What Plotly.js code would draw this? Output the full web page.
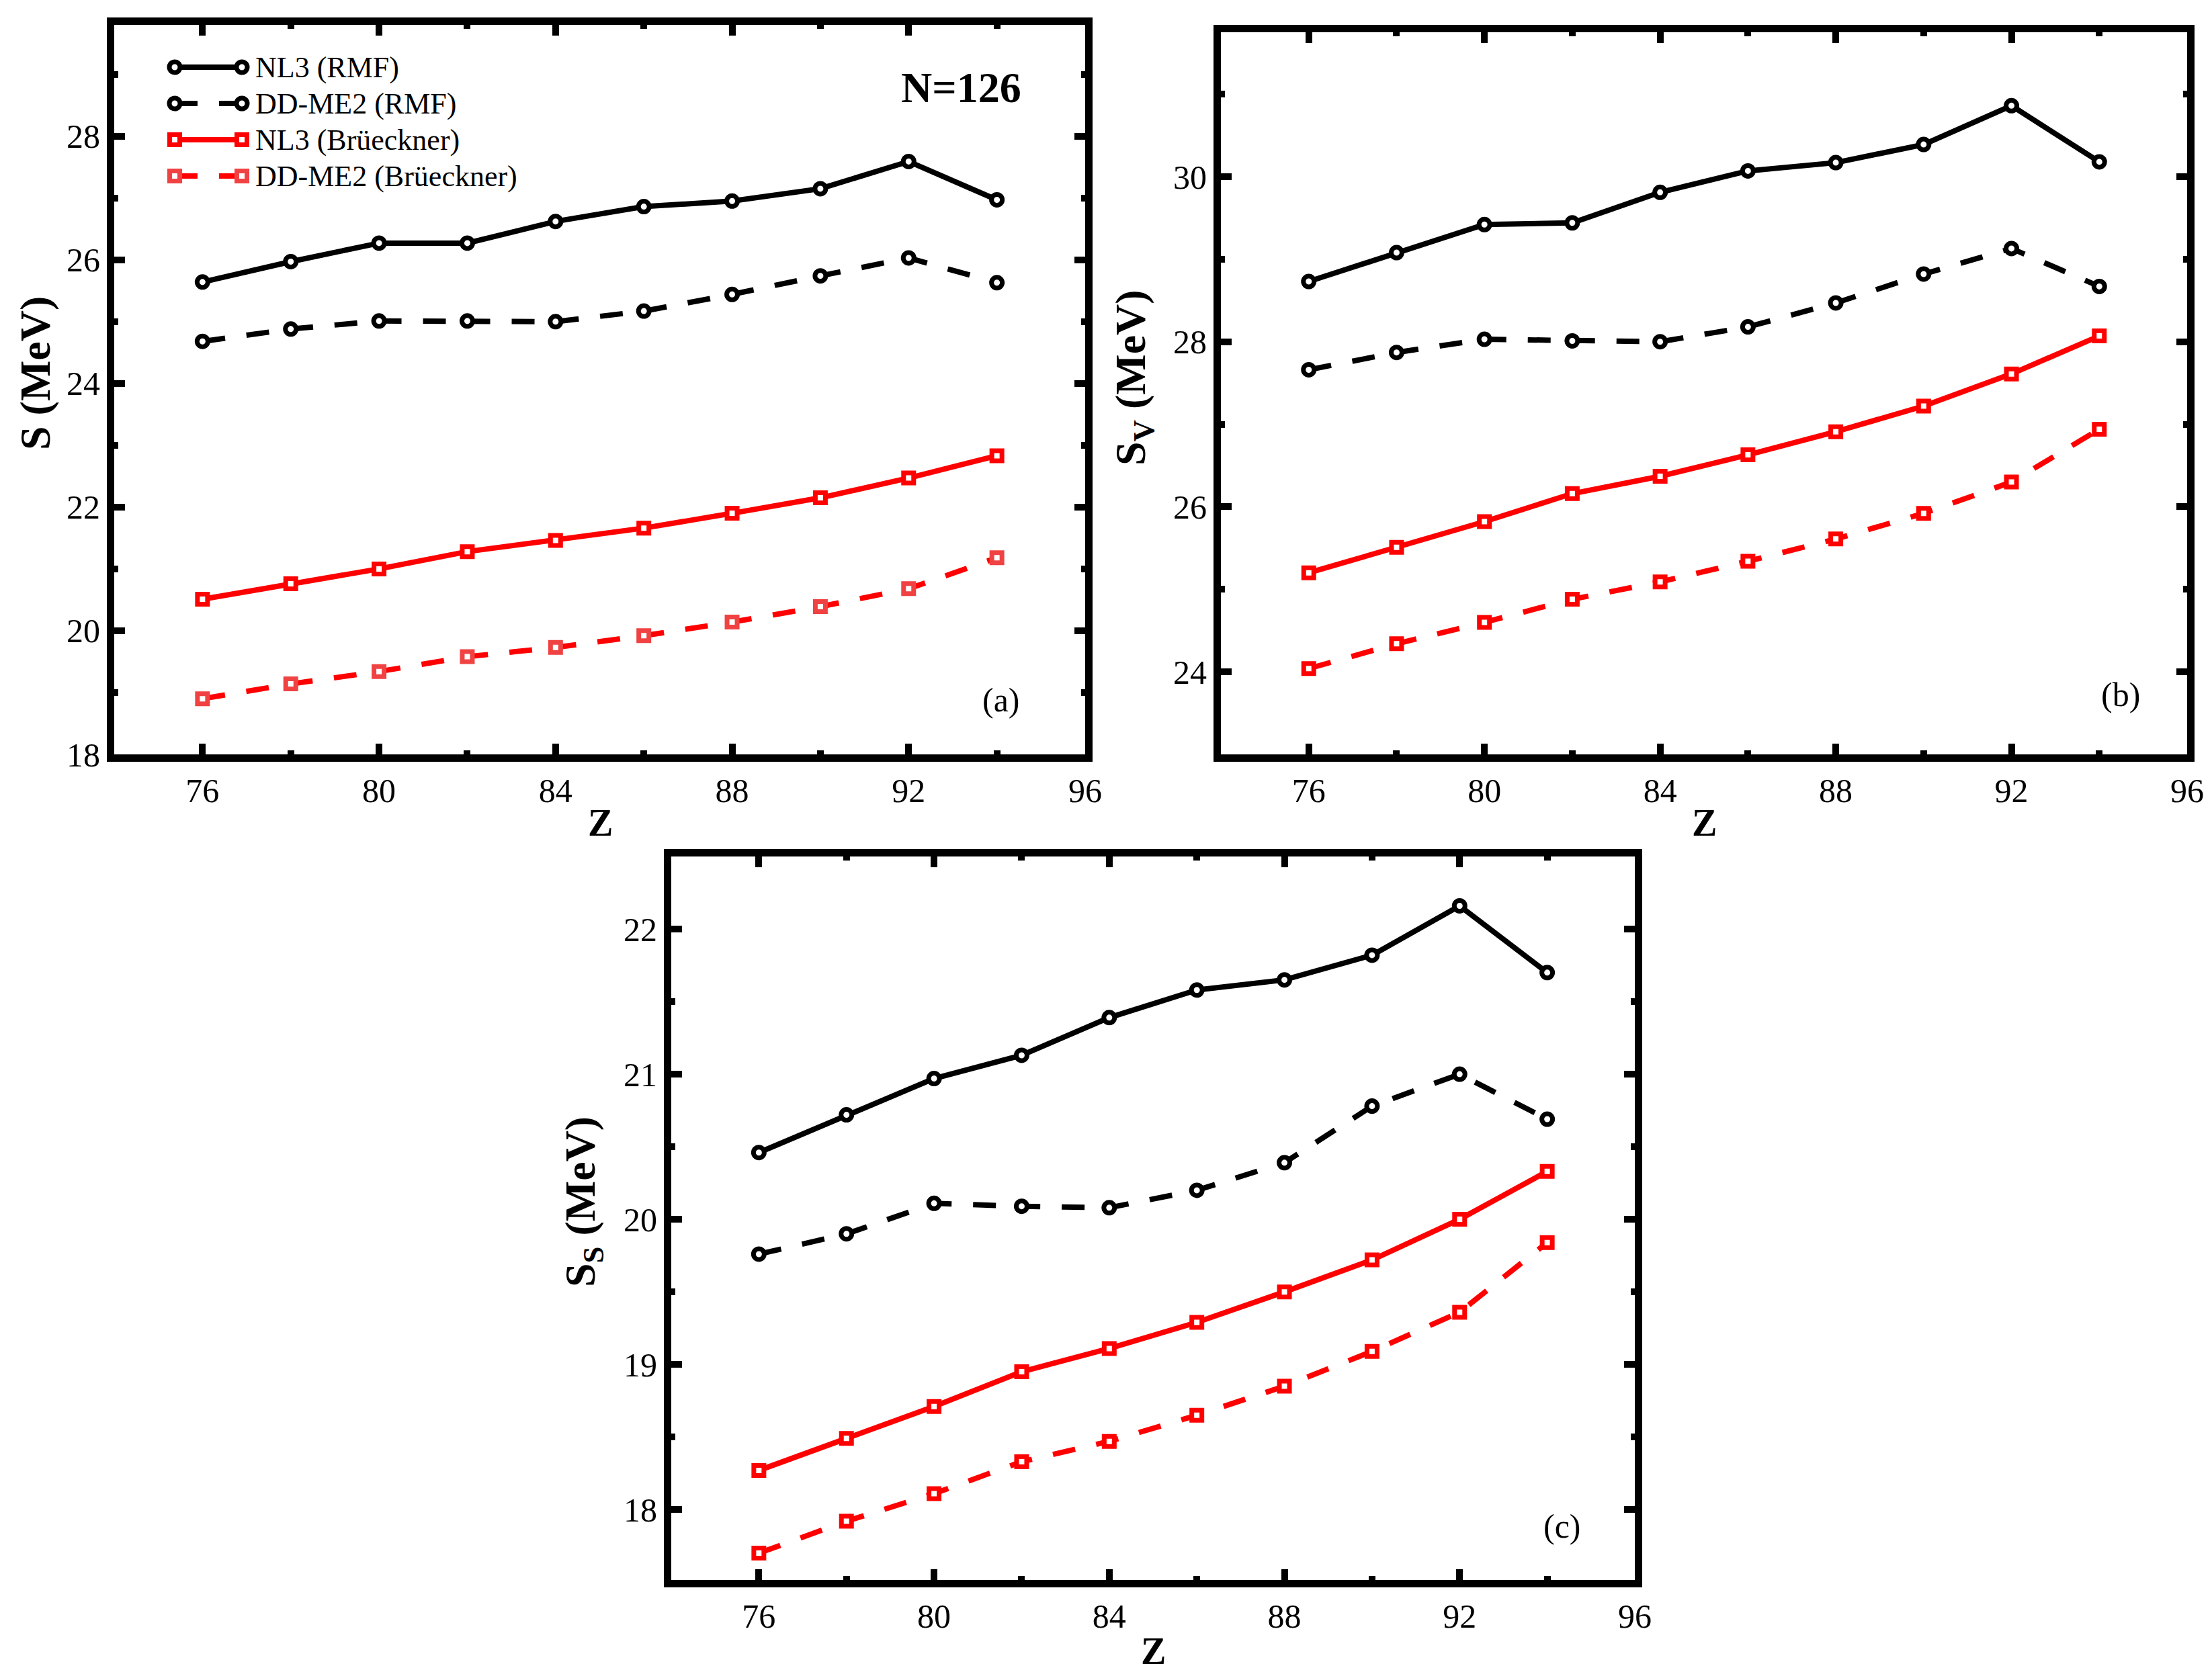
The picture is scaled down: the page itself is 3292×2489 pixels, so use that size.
<!DOCTYPE html>
<html>
<head>
<meta charset="utf-8">
<script src="https://cdn.plot.ly/plotly-3.0.1.min.js"></script>
<style>html,body{margin:0;padding:0;background:#fff;}#chart{width:3292px;height:2489px;}</style>
</head>
<body>
<div id="chart"></div>
<script>
// ---------------- data ----------------
const Z = [76, 78, 80, 82, 84, 86, 88, 90, 92, 94];

const S_NL3_RMF    = [25.64, 25.97, 26.27, 26.27, 26.62, 26.86, 26.95, 27.15, 27.59, 26.97];
const S_DDME2_RMF  = [24.68, 24.88, 25.01, 25.01, 25.00, 25.17, 25.44, 25.74, 26.03, 25.63];
const S_NL3_BR     = [20.51, 20.76, 21.00, 21.28, 21.46, 21.66, 21.90, 22.15, 22.47, 22.83];
const S_DDME2_BR   = [18.90, 19.14, 19.34, 19.58, 19.73, 19.92, 20.14, 20.39, 20.68, 21.18];

const SV_NL3_RMF   = [28.73, 29.08, 29.42, 29.44, 29.81, 30.07, 30.17, 30.39, 30.86, 30.18];
const SV_DDME2_RMF = [27.66, 27.87, 28.03, 28.01, 28.00, 28.18, 28.47, 28.82, 29.13, 28.67];
const SV_NL3_BR    = [25.20, 25.51, 25.82, 26.16, 26.37, 26.63, 26.91, 27.22, 27.61, 28.07];
const SV_DDME2_BR  = [24.04, 24.34, 24.60, 24.88, 25.09, 25.34, 25.61, 25.92, 26.30, 26.94];

const SS_NL3_RMF   = [20.46, 20.72, 20.97, 21.13, 21.39, 21.58, 21.65, 21.82, 22.16, 21.70];
const SS_DDME2_RMF = [19.76, 19.90, 20.11, 20.09, 20.08, 20.20, 20.39, 20.78, 21.00, 20.69];
const SS_NL3_BR    = [18.27, 18.49, 18.71, 18.95, 19.11, 19.29, 19.50, 19.72, 20.00, 20.33];
const SS_DDME2_BR  = [17.70, 17.92, 18.11, 18.33, 18.47, 18.65, 18.85, 19.09, 19.36, 19.84];

const legendLabels = ['NL3 (RMF)', 'DD-ME2 (RMF)', 'NL3 (Brüeckner)', 'DD-ME2 (Brüeckner)'];

// ---------------- styles ----------------
const W = 3292, H = 2489;
const FONT = 'Liberation Serif';
const LW = 8;
const DASH = '34px,32px';

function style(k, panel) {
  const black = '#000000', red = '#ff0000', lightRed = 'rgb(240,66,66)';
  const isRed = k >= 2;
  const dashed = (k % 2) === 1;
  const lineColor = isRed ? red : black;
  let mColor = lineColor;
  if (k === 3 && panel === 'a') mColor = lightRed;
  return {
    line: {color: lineColor, width: LW, dash: dashed ? DASH : 'solid'},
    marker: {symbol: isRed ? 'square' : 'circle', size: isRed ? 15 : 16, color: '#ffffff',
             line: {color: mColor, width: 7}}
  };
}

function px2x(p) { return p / W; }
function px2y(p) { return 1 - p / H; }

const traces = [];
function addPanel(series, xa, ya, panel) {
  series.forEach((ys, k) => {
    const st = style(k, panel);
    traces.push({x: Z, y: ys, xaxis: xa, yaxis: ya, type: 'scatter', mode: 'lines+markers',
                 line: st.line, marker: st.marker, showlegend: false, cliponaxis: false,
                 hoverinfo: 'skip'});
  });
}
addPanel([S_NL3_RMF, S_DDME2_RMF, S_NL3_BR, S_DDME2_BR], 'x', 'y', 'a');
addPanel([SV_NL3_RMF, SV_DDME2_RMF, SV_NL3_BR, SV_DDME2_BR], 'x2', 'y2', 'b');
addPanel([SS_NL3_RMF, SS_DDME2_RMF, SS_NL3_BR, SS_DDME2_BR], 'x3', 'y3', 'c');

// custom legend glyphs (line with a symbol at each end)
legendLabels.forEach((lab, k) => {
  const st = style(k, 'a');
  traces.push({x: [0, 1], y: [k, k], xaxis: 'x4', yaxis: 'y4', type: 'scatter', mode: 'lines+markers',
               line: st.line, marker: st.marker, showlegend: false, cliponaxis: false, hoverinfo: 'skip'});
});

function xAxis(l, r, anchor) {
  return {
    domain: [px2x(l), px2x(r)], anchor: anchor, range: [74, 96],
    tick0: 76, dtick: 4, ticks: 'inside', ticklen: 16, tickwidth: 10, tickcolor: '#000',
    minor: {ticks: 'inside', ticklen: 6, tickwidth: 10, tickcolor: '#000', tick0: 76, dtick: 2},
    showline: true, linewidth: 11, linecolor: '#000', mirror: 'ticks',
    showgrid: false, zeroline: false,
    tickfont: {family: FONT, size: 50, color: '#000', weight: 'normal'}, fixedrange: true
  };
}
function yAxis(t, b, anchor, range, tick0, dtick, mdtick) {
  return {
    domain: [px2y(b), px2y(t)], anchor: anchor, range: range,
    tick0: tick0, dtick: dtick, ticks: 'inside', ticklen: 16, tickwidth: 10, tickcolor: '#000',
    minor: {ticks: 'inside', ticklen: 6, tickwidth: 10, tickcolor: '#000', tick0: tick0, dtick: mdtick},
    showline: true, linewidth: 11, linecolor: '#000', mirror: 'ticks',
    showgrid: false, zeroline: false,
    tickfont: {family: FONT, size: 50, color: '#000', weight: 'normal'}, fixedrange: true
  };
}

const ann = [];
function txt(text, x, y, size, bold, angle, xanchor) {
  ann.push({text: text, xref: 'paper', yref: 'paper', x: px2x(x), y: px2y(y),
            xanchor: xanchor || 'center', yanchor: 'middle', showarrow: false,
            textangle: angle || 0,
            font: {family: FONT, size: size, color: '#000', weight: bold ? 'bold' : 'normal'}});
}
// axis titles
txt('S (MeV)', 52, 556, 64, true, -90);
txt('Z', 893, 1225, 56, true);
txt('S<sub>V</sub> (MeV)', 1687, 562, 64, true, -90);
txt('Z', 2536, 1225, 56, true);
txt('S<sub>S</sub> (MeV)', 868, 1789, 64, true, -90);
txt('Z', 1716, 2458, 56, true);
// panel labels
txt('(a)', 1490, 1042, 50, false);
txt('(b)', 3156, 1034, 50, false);
txt('(c)', 2325, 2272, 50, false);
txt('N=126', 1430, 130, 64, true);
// legend labels
legendLabels.forEach((lab, k) => {
  txt(lab, 378, 100 + 54 * k, 44, false, 0, 'left');
});

const layout = {
  width: W, height: H, margin: {l: 0, r: 0, t: 0, b: 0, pad: 0},
  paper_bgcolor: '#fff', plot_bgcolor: 'rgba(0,0,0,0)', showlegend: false,
  font: {family: FONT, color: '#000'},
  xaxis: xAxis(170, 1615, 'y'),
  yaxis: yAxis(37, 1123, 'x', [18, 29.8], 18, 2, 1),
  xaxis2: xAxis(1817, 3255, 'y2'),
  yaxis2: yAxis(48, 1123, 'x2', [23, 31.75], 24, 2, 1),
  xaxis3: xAxis(999, 2433, 'y3'),
  yaxis3: yAxis(1275, 2352, 'x3', [17.515, 22.5], 18, 1, 0.5),
  xaxis4: {domain: [px2x(260), px2x(360)], anchor: 'y4', range: [0, 1], visible: false, fixedrange: true},
  yaxis4: {domain: [px2y(289), px2y(73)], anchor: 'x4', range: [3.5, -0.5], visible: false, fixedrange: true},
  annotations: ann
};

Plotly.newPlot('chart', traces, layout, {staticPlot: true, displayModeBar: false});
</script>
</body>
</html>
